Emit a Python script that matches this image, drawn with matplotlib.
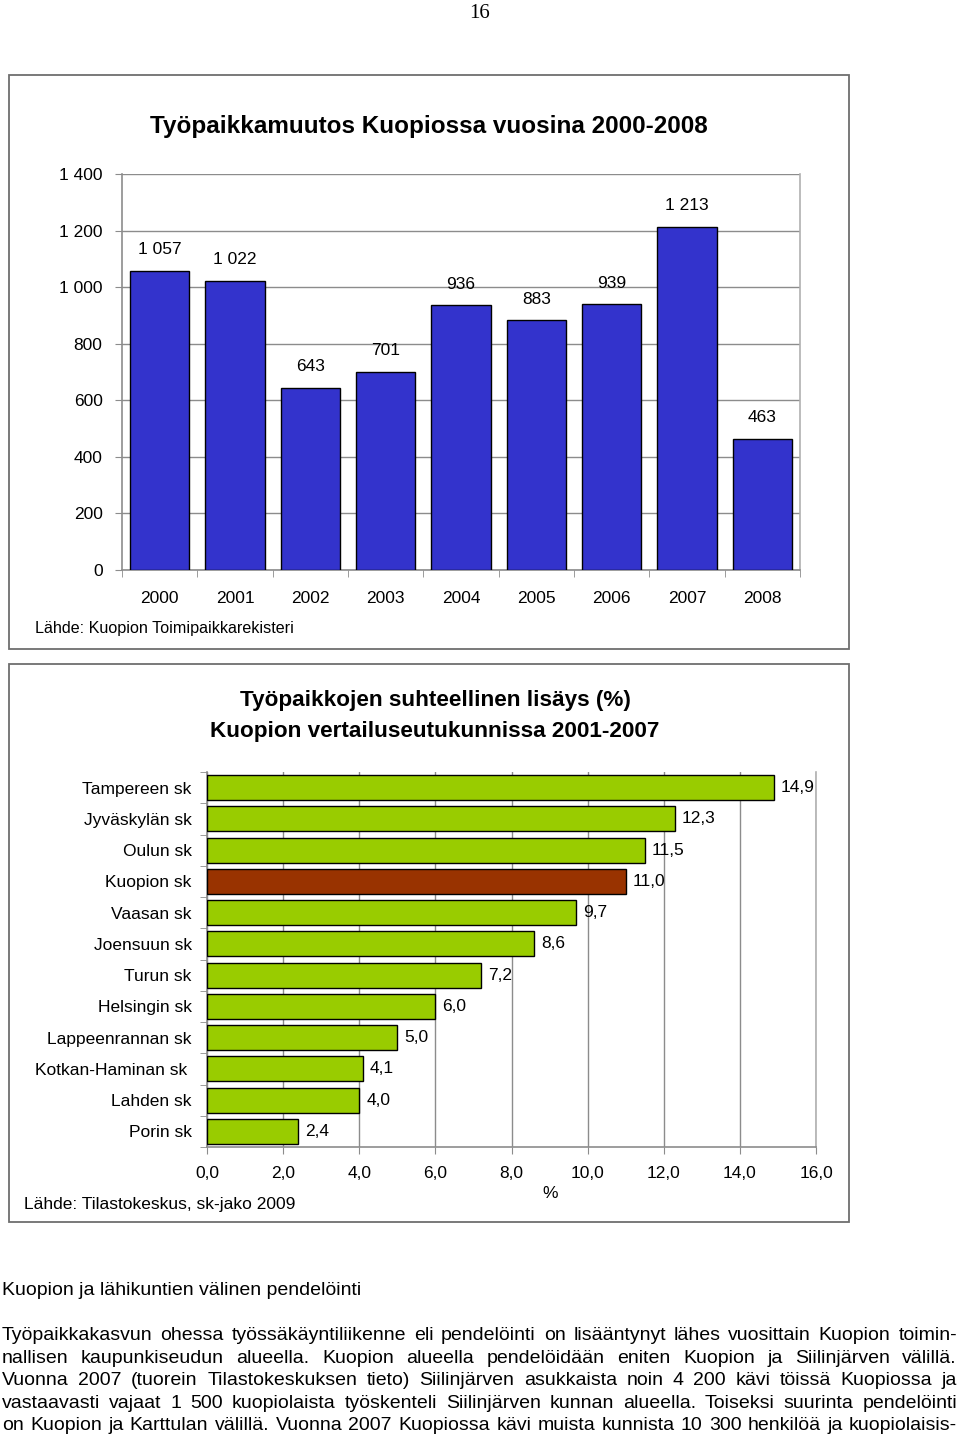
import matplotlib
matplotlib.use('Agg')
from matplotlib import pyplot as plt
from matplotlib.patches import Rectangle
import numpy as np

plt.rcParams['font.family'] = ['Liberation Sans', 'DejaVu Sans']

# chart 1 data
years = ['2000', '2001', '2002', '2003', '2004', '2005', '2006', '2007', '2008']
jobs_change = [1057, 1022, 643, 701, 936, 883, 939, 1213, 463]

# chart 2 data
regions = ['Tampereen sk', 'Jyväskylän sk', 'Oulun sk', 'Kuopion sk', 'Vaasan sk',
           'Joensuun sk', 'Turun sk', 'Helsingin sk', 'Lappeenrannan sk',
           'Kotkan-Haminan sk ', 'Lahden sk', 'Porin sk']
growth_pct = [14.9, 12.3, 11.5, 11.0, 9.7, 8.6, 7.2, 6.0, 5.0, 4.1, 4.0, 2.4]

heading = 'Kuopion ja lähikuntien välinen pendelöinti'
para_lines = [
    'Työpaikkakasvun ohessa työssäkäyntiliikenne eli pendelöinti on lisääntynyt lähes vuosittain Kuopion toimin-',
    'nallisen kaupunkiseudun alueella. Kuopion alueella pendelöidään eniten Kuopion ja Siilinjärven välillä.',
    'Vuonna 2007 (tuorein Tilastokeskuksen tieto) Siilinjärven asukkaista noin 4 200 kävi töissä Kuopiossa ja',
    'vastaavasti vajaat 1 500 kuopiolaista työskenteli Siilinjärven kunnan alueella. Toiseksi suurinta pendelöinti',
    'on Kuopion ja Karttulan välillä. Vuonna 2007 Kuopiossa kävi muista kunnista 10 300 henkilöä ja kuopiolaisis-',
]

W, H = 960, 1440
fig = plt.figure(figsize=(W / 100, H / 100), dpi=100)


def fx(x):
    return x / W


def fy(y):
    return 1 - y / H


def ax_rect(l, t, r, b):
    return [fx(l), fy(b), (r - l) / W, (b - t) / H]


grid_c = '#8c8c8c'

# page number
fig.text(fx(480), fy(14), '16', ha='center', va='center', fontsize=15,
         family=['Liberation Serif', 'DejaVu Serif'])

# frames
for (l, t, r, b) in [(9, 75, 849, 649), (9, 664, 849, 1222)]:
    fig.patches.append(Rectangle((fx(l), fy(b)), (r - l) / W, (b - t) / H,
                                 transform=fig.transFigure, fill=False,
                                 edgecolor='#6e6e6e', linewidth=1.3))

# ---------- chart 1 ----------
ax1 = fig.add_axes(ax_rect(122, 174, 800, 570))
x = np.arange(len(years))
ax1.bar(x, jobs_change, width=0.79, color='#3333CC', edgecolor='black',
        linewidth=1, zorder=3)
ax1.set_xlim(-0.5, len(years) - 0.5)
ax1.set_ylim(0, 1400)
yt = np.arange(0, 1401, 200)
ax1.set_yticks(yt)
ax1.set_yticklabels([f'{v:,}'.replace(',', ' ') for v in yt], fontsize=12.5)
ax1.yaxis.grid(True, color=grid_c, linewidth=1, zorder=0)
ax1.set_xticks(x)
ax1.set_xticklabels(years, fontsize=12.5)
ax1.set_xticks(np.arange(-0.5, len(years)), minor=True)
ax1.tick_params(axis='x', which='major', length=0, pad=15)
ax1.tick_params(axis='x', which='minor', length=5, color=grid_c, direction='out')
ax1.tick_params(axis='y', length=5, color=grid_c, pad=9)
ax1.spines['top'].set_visible(False)
for s in ['left', 'bottom', 'right']:
    ax1.spines[s].set_color(grid_c)
    ax1.spines[s].set_linewidth(1.2)
ax1.spines['right'].set_color('#b0b0b0')
for xi, v in zip(x, jobs_change):
    ax1.annotate(f'{v:,}'.replace(',', ' '), (xi, v), xytext=(0, 12),
                 textcoords='offset points', ha='center', va='baseline',
                 fontsize=12.5)

fig.text(fx(429), fy(127), 'Työpaikkamuutos Kuopiossa vuosina 2000-2008',
         ha='center', va='center', fontsize=17.5, fontweight='bold')
fig.text(fx(35), fy(629), 'Lähde: Kuopion Toimipaikkarekisteri', ha='left',
         va='center', fontsize=11.6)

# ---------- chart 2 ----------
ax2 = fig.add_axes(ax_rect(207, 772, 816, 1147))
yy = np.arange(len(regions))
colors = ['#993300' if r.startswith('Kuopion') else '#99CC00' for r in regions]
ax2.barh(yy, growth_pct, height=0.8, color=colors, edgecolor='black',
         linewidth=1, zorder=3)
ax2.set_ylim(len(regions) - 0.5, -0.5)
ax2.set_xlim(0, 16)
xt = np.arange(0, 16.1, 2)
ax2.set_xticks(xt)
ax2.set_xticklabels([f'{v:.1f}'.replace('.', ',') for v in xt], fontsize=12.5)
ax2.xaxis.grid(True, color=grid_c, linewidth=1, zorder=0)
ax2.set_yticks(yy)
ax2.set_yticklabels(regions, fontsize=12.5)
ax2.set_yticks(np.arange(-0.5, len(regions)), minor=True)
ax2.tick_params(axis='y', which='major', length=0, pad=11)
ax2.tick_params(axis='y', which='minor', length=5, color=grid_c, direction='out')
ax2.tick_params(axis='x', length=5, color=grid_c, pad=9)
ax2.spines['top'].set_visible(False)
for s in ['left', 'bottom', 'right']:
    ax2.spines[s].set_color(grid_c)
    ax2.spines[s].set_linewidth(1.2)
ax2.spines['right'].set_color('#b0b0b0')
for yi, v in zip(yy, growth_pct):
    ax2.annotate(f'{v:.1f}'.replace('.', ','), (v, yi), xytext=(5, 0),
                 textcoords='offset points', ha='left', va='center',
                 fontsize=12.5)

fig.text(fx(435), fy(701), 'Työpaikkojen suhteellinen lisäys (%)', ha='center',
         va='center', fontsize=16.2, fontweight='bold')
fig.text(fx(435), fy(731), 'Kuopion vertailuseutukunnissa 2001-2007', ha='center',
         va='center', fontsize=16.2, fontweight='bold')
fig.text(fx(550), fy(1193), '%', ha='center', va='center', fontsize=12.5)
fig.text(fx(24), fy(1204), 'Lähde: Tilastokeskus, sk-jako 2009', ha='left',
         va='center', fontsize=12.5)

# ---------- body text (justified) ----------
renderer = fig.canvas.get_renderer()
x0, x1 = 2, 957
base_size = 11.5
probe = [fig.text(0, 0, ln, fontsize=base_size) for ln in para_lines]
widest = max(t.get_window_extent(renderer).width for t in probe)
for t in probe:
    t.remove()
body_size = base_size * (x1 - x0) * 0.985 / widest

fig.text(fx(2), fy(1295), heading, ha='left', va='baseline', fontsize=body_size)

baselines = [1340, 1363, 1385, 1408, 1430]
for line, base in zip(para_lines, baselines):
    words = line.split(' ')
    texts = [fig.text(0, fy(base), w, ha='left', va='baseline', fontsize=body_size)
             for w in words]
    widths = [t.get_window_extent(renderer).width for t in texts]
    gap = (x1 - x0 - sum(widths)) / (len(words) - 1)
    pos = x0
    for t, w in zip(texts, widths):
        t.set_x(fx(pos))
        pos += w + gap

fig.savefig('out.png', dpi=100)
